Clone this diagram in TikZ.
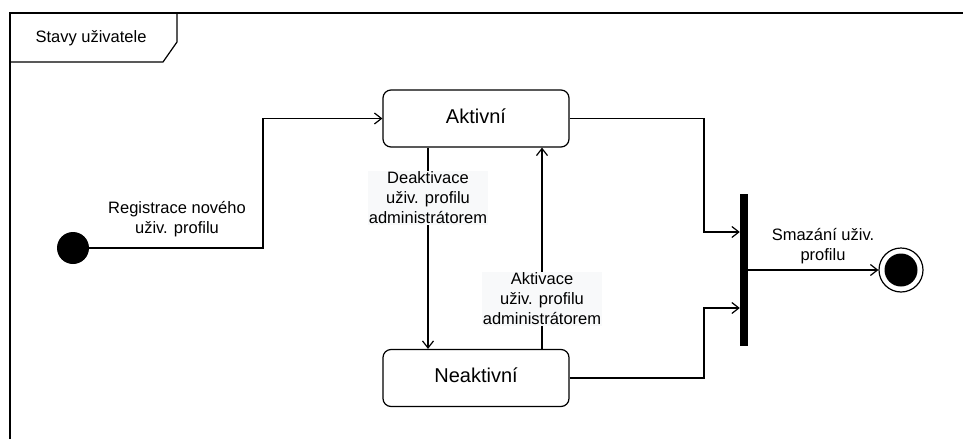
\documentclass[tikz,border=0pt]{standalone}
\usepackage{fontspec}
\setmainfont{Liberation Sans}
\usetikzlibrary{arrows.meta}
\definecolor{lblbg}{RGB}{248,249,250}
\tikzset{
  conn/.style={line width=1.2pt, draw=black},
  arr/.style={conn, -{Straight Barb[length=7pt,width=11pt,line width=1.2pt]}},
  statebox/.style={draw, line width=1.2pt, rounded corners=8pt, minimum width=186pt, minimum height=57pt, inner sep=0pt,
    font=\fontsize{20}{24}\selectfont},
  lbl/.style={align=center, inner sep=1pt, font=\fontsize{16.5}{20}\selectfont},
  lblbox/.style={lbl, fill=lblbg},
}
\begin{document}
\begin{tikzpicture}[x=1pt,y=-1pt]
\useasboundingbox (0,0) rectangle (963,439);
\fill[white] (0,0) rectangle (963,439);

% frame with name tab
\draw[conn] (10,439) -- (10,13) -- (963,13);
\draw[conn] (10,62) -- (163,62) -- (177,42) -- (177,13);
\node[lbl] (title) at (91,38) {Stavy uživatele};

% states
\node[circle, fill=black, minimum size=32pt, inner sep=0pt] (init) at (73,248) {};
\node[statebox] (aktiv) at (476,118.5) {\raisebox{5pt}{Aktivní}};
\node[statebox] (neak) at (476,378) {\raisebox{5pt}{Neaktivní}};
\node[fill=black, minimum width=8pt, minimum height=152pt, inner sep=0pt] (bar) at (744,270) {};
\node[circle, draw, line width=1.2pt, fill=white, minimum size=44pt, inner sep=0pt] (fin) at (901,270) {};
\fill[black] (fin.center) circle (16.5pt);

% registration
\coordinate (rx) at (263,248);
\draw[arr] (init.east) -- (rx) |- (aktiv.west);
\node[lbl] (reglbl) at (177,219) {Registrace nového\\uživ. profilu};

% deactivation / activation
\coordinate (dx) at (428,0);
\coordinate (ax) at (542,0);
\draw[arr] (aktiv.south -| dx) -- node[lblbox, pos=0.25] (deaklbl) {Deaktivace\\uživ. profilu\\administrátorem} (neak.north -| dx);
\draw[arr] (neak.north -| ax) -- node[lblbox, pos=0.25] (aktlbl) {Aktivace\\uživ. profilu\\administrátorem} (aktiv.south -| ax);

% joins into the bar
\coordinate (j1) at (704,232);
\coordinate (j2) at (704,308);
\draw[arr] (aktiv.east) -| (j1) -- (bar.west |- j1);
\draw[arr] (neak.east) -| (j2) -- (bar.west |- j2);

% deletion
\draw[arr] (bar.east) -- (fin.west);
\node[lbl] (dellbl) at (823,246) {Smazání uživ.\\profilu};
\end{tikzpicture}
\end{document}
